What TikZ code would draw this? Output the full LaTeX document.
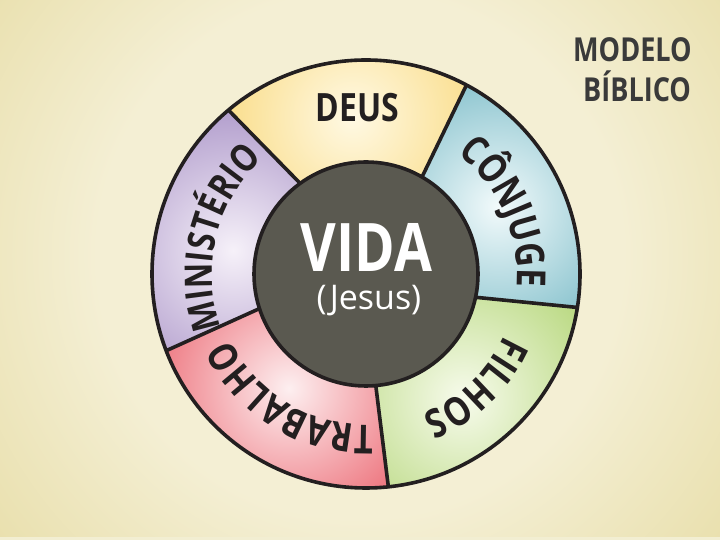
\documentclass[tikz,border=0pt]{standalone}
\usepackage{fontspec}
\setmainfont{Open Sans}
\newfontfamily\cfont[FakeStretch=0.82]{Open Sans}
\usetikzlibrary{decorations.text}
\definecolor{bgin}{HTML}{F4EFD4}
\definecolor{bgout}{HTML}{D1BE58}
\definecolor{bgstrip}{HTML}{F2EED2}
\definecolor{ink}{HTML}{231F20}
\definecolor{titleink}{HTML}{3A3A3A}
\definecolor{centerfill}{HTML}{5A5950}
\definecolor{deusin}{HTML}{FFF9E4}
\definecolor{deusout}{HTML}{F6CB50}
\definecolor{conin}{HTML}{F2FAFB}
\definecolor{conout}{HTML}{48A1B2}
\definecolor{filin}{HTML}{F7FBEC}
\definecolor{filout}{HTML}{9DC950}
\definecolor{train}{HTML}{FDEFF0}
\definecolor{traout}{HTML}{E42C3A}
\definecolor{minin}{HTML}{F6F1F9}
\definecolor{minout}{HTML}{8F73B6}
\pgfdeclareradialshading{bgshade}{\pgfpoint{0bp}{0bp}}{color(0bp)=(bgin); color(14bp)=(bgin); color(48bp)=(bgout); color(50bp)=(bgout)}
\newcommand\ringfmt{\cfont\bfseries\fontsize{40}{40}\selectfont}
\newcommand\ringfmtm{\cfont\bfseries\fontsize{38}{38}\selectfont}
\tikzset{
  ring/.style={draw=ink, line width=3.6pt},
  ringlabel/.style={decorate, decoration={text along path, text align=center, text color=ink}},
}
\begin{document}
\begin{tikzpicture}[x=1pt,y=1pt,line join=round]
\useasboundingbox (0,0) rectangle (720,540);
\begin{scope}
  \clip (0,0) rectangle (720,540);
  \shade[shading=bgshade] (360,285) circle (470);
\end{scope}
\fill[bgstrip] (0,0) rectangle (720,3);

\begin{scope}[shift={(366,266)}]
  % DEUS
  \begin{scope}
    \clip (62:214) arc[start angle=62,end angle=130,radius=214] -- (126:112) arc[start angle=126,end angle=60,radius=112] -- cycle;
    \shade[inner color=deusin, outer color=deusout] (95:158) circle (215);
  \end{scope}
  % CONJUGE
  \begin{scope}
    \clip (-9:214) arc[start angle=-9,end angle=62,radius=214] -- (60:112) arc[start angle=60,end angle=-12,radius=112] -- cycle;
    \shade[inner color=conin, outer color=conout] (27:148) circle (215);
  \end{scope}
  % FILHOS
  \begin{scope}
    \clip (-84:214) arc[start angle=-84,end angle=-9,radius=214] -- (-12:112) arc[start angle=-12,end angle=-85,radius=112] -- cycle;
    \shade[inner color=filin, outer color=filout] (-52:158) circle (215);
  \end{scope}
  % TRABALHO
  \begin{scope}
    \clip (-159:214) arc[start angle=-159,end angle=-84,radius=214] -- (-85:112) arc[start angle=-85,end angle=-162,radius=112] -- cycle;
    \shade[inner color=train, outer color=traout] (-124:138) circle (225);
  \end{scope}
  % MINISTERIO
  \begin{scope}
    \clip (130:214) arc[start angle=130,end angle=201,radius=214] -- (198:112) arc[start angle=198,end angle=126,radius=112] -- cycle;
    \shade[inner color=minin, outer color=minout] (170:135) circle (215);
  \end{scope}

  % dividers
  \coordinate (o1) at (130:214); \coordinate (i1) at (126:112);
  \coordinate (o2) at (62:214);  \coordinate (i2) at (60:112);
  \coordinate (o3) at (-9:214);  \coordinate (i3) at (-12:112);
  \coordinate (o4) at (-84:214); \coordinate (i4) at (-85:112);
  \coordinate (o5) at (201:214); \coordinate (i5) at (198:112);
  \draw[ring] (o1) -- (i1);
  \draw[ring] (o2) -- (i2);
  \draw[ring] (o3) -- (i3);
  \draw[ring] (o4) -- (i4);
  \draw[ring] (o5) -- (i5);

  \draw[ring] (0,0) circle (214);
  \draw[ring, fill=centerfill] (0,0) circle (112);

  % curved labels (clockwise, tops outward)
  \path[ringlabel, decoration={text={|\ringfmt|CÔNJUGE}}] (94:151) arc[start angle=94,end angle=-46,radius=151];
  \path[ringlabel, decoration={text={|\ringfmt|FILHOS}}] (24:151) arc[start angle=24,end angle=-116,radius=151];
  \path[ringlabel, decoration={text={|\ringfmt|TRABALHO}}] (-51:151) arc[start angle=-51,end angle=-191,radius=151];
  \path[ringlabel, decoration={text={|\ringfmtm|MINISTÉRIO}}] (236:154) arc[start angle=236,end angle=96,radius=154];
\end{scope}

\node[anchor=base, text=ink, font=\cfont\bfseries\fontsize{39}{39}\selectfont, inner sep=0] (deus) at (357.5,418) {DEUS};
\node[anchor=base, text=white, font=\cfont\bfseries\fontsize{67}{67}\selectfont, inner sep=0] (vida) at (366.5,268) {VIDA};
\node[anchor=base, text=white, font=\fontsize{34}{34}\selectfont, inner sep=0] (jesus) at (369,230) {(Jesus)};
\node[anchor=base west, text=titleink, font=\cfont\bfseries\fontsize{33}{33}\selectfont, inner sep=0] (modelo) at (573,478) {MODELO};
\node[anchor=base west, text=titleink, font=\cfont\bfseries\fontsize{33}{33}\selectfont, inner sep=0] (biblico) at (583,438) {BÍBLICO};
\end{tikzpicture}
\end{document}
